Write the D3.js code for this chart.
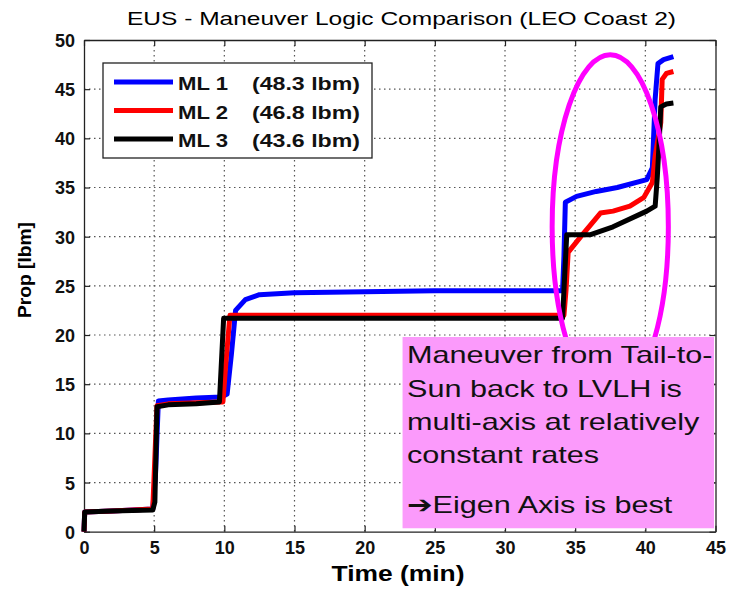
<!DOCTYPE html>
<html>
<head>
<meta charset="utf-8">
<script src="https://cdn.jsdelivr.net/npm/d3@7"></script>
<style>
  html, body { margin: 0; padding: 0; background: #fff; }
  svg { display: block; }
  text { font-family: "Liberation Sans", Arial, Helvetica, sans-serif; }
</style>
</head>
<body>
<svg id="chart" width="738" height="591"></svg>
<script>
// Propellant usage (lbm) vs time (min) for three maneuver logics
const seriesNames = ["ML 1", "ML 2", "ML 3"];
const seriesTotals = ["(48.3 lbm)", "(46.8 lbm)", "(43.6 lbm)"];
const seriesColors = ["#0000ff", "#ff0000", "#000000"];

const ml1Time = [0, 0.05, 2, 4.9, 5.1, 5.3, 6, 8, 9.8, 10.2, 10.5, 10.8, 11.5, 12.5, 15, 20, 25, 30, 34.1, 34.2, 34.3, 35.1, 36.5, 38, 40.1, 40.5, 40.7, 40.9, 41.3, 42];
const ml1Prop = [0, 2.0, 2.1, 2.3, 6, 13.3, 13.4, 13.6, 13.7, 14, 18, 22.5, 23.6, 24.1, 24.3, 24.4, 24.5, 24.5, 24.5, 28, 33.5, 34.1, 34.6, 35.0, 35.8, 37, 44, 47.6, 48.0, 48.3];

const ml2Time = [0, 0.05, 2, 4.9, 5.2, 6, 9.7, 9.9, 10.1, 10.4, 15, 20, 30, 34.2, 34.35, 34.5, 35.4, 36.8, 37.7, 38.9, 39.9, 40.5, 40.7, 41.1, 41.2, 41.5, 42];
const ml2Prop = [0, 2.0, 2.1, 2.3, 12.8, 13.0, 13.2, 13.2, 17, 22.0, 22.0, 22.0, 22.0, 22.0, 24.6, 28.4, 30.0, 32.4, 32.6, 33.1, 34.0, 35.5, 38.2, 41.6, 46.0, 46.6, 46.8];

const ml3Time = [0, 0.05, 2, 4.9, 5.05, 5.2, 6, 8, 9.65, 9.95, 15, 25, 34.1, 34.25, 34.4, 36.1, 37.7, 40.1, 40.7, 40.85, 41.0, 41.1, 41.5, 42];
const ml3Prop = [0, 2.0, 2.1, 2.2, 3, 12.7, 12.9, 13.0, 13.2, 21.7, 21.7, 21.7, 21.7, 26, 30.2, 30.2, 31.0, 32.6, 33.1, 36, 40, 43.2, 43.5, 43.6];

const xTicks = [0, 5, 10, 15, 20, 25, 30, 35, 40, 45];
const yTicks = [0, 5, 10, 15, 20, 25, 30, 35, 40, 45, 50];

const noteLines = ["Maneuver from Tail-to-", "Sun back to LVLH is", "multi-axis at relatively", "constant rates", "\u2794Eigen Axis is best"];

const svg = d3.select("#chart");
const W = 738, H = 591;
const plotL = 84, plotR = 715.5, plotT = 40, plotB = 531.7;

const x = d3.scaleLinear().domain([0, 45]).range([plotL, plotR]);
const y = d3.scaleLinear().domain([0, 50]).range([plotB, plotT]);

svg.append("rect").attr("width", W).attr("height", H).attr("fill", "#fff");

// Title
svg.append("text")
  .attr("x", 127).attr("y", 25)
  .attr("font-size", 18.5)
  .attr("textLength", 549).attr("lengthAdjust", "spacingAndGlyphs")
  .text("EUS - Maneuver Logic Comparison (LEO Coast 2)");

// Plot background
svg.append("rect")
  .attr("x", plotL).attr("y", plotT)
  .attr("width", plotR - plotL).attr("height", plotB - plotT)
  .attr("fill", "#fff");

// Dotted grid
const grid = svg.append("g").attr("stroke", "#555").attr("stroke-width", 1.2).attr("stroke-dasharray", "1.5,3.5");
grid.selectAll(".gx").data(xTicks.slice(1, -1)).join("line")
  .attr("x1", d => x(d)).attr("x2", d => x(d))
  .attr("y1", plotT).attr("y2", plotB);
grid.selectAll(".gy").data(yTicks.slice(1, -1)).join("line")
  .attr("x1", plotL).attr("x2", plotR)
  .attr("y1", d => y(d)).attr("y2", d => y(d));

// Axes with inward ticks on all four sides
const tickLen = 6;
const axB = svg.append("g").attr("transform", `translate(0,${plotB})`)
  .call(d3.axisBottom(x).tickValues(xTicks).tickSizeInner(-tickLen).tickSizeOuter(0).tickPadding(10));
const axT = svg.append("g").attr("transform", `translate(0,${plotT})`)
  .call(d3.axisTop(x).tickValues(xTicks).tickSizeInner(-tickLen).tickSizeOuter(0).tickFormat(""));
const axL = svg.append("g").attr("transform", `translate(${plotL},0)`)
  .call(d3.axisLeft(y).tickValues(yTicks).tickSizeInner(-tickLen).tickSizeOuter(0).tickPadding(9));
const axR = svg.append("g").attr("transform", `translate(${plotR},0)`)
  .call(d3.axisRight(y).tickValues(yTicks).tickSizeInner(-tickLen).tickSizeOuter(0).tickFormat(""));

[axB, axT, axL, axR].forEach(a => {
  a.select(".domain").attr("stroke", "#222").attr("stroke-width", 1.3);
  a.selectAll(".tick line").attr("stroke", "#222").attr("stroke-width", 1.2);
});
[axB, axL].forEach(a => {
  a.selectAll(".tick text")
    .attr("font-family", "Liberation Sans, Arial, sans-serif")
    .attr("font-size", 18).attr("font-weight", "bold").attr("fill", "#111");
});
axB.selectAll(".tick text").attr("dy", "0.71em");
axL.selectAll(".tick text").attr("dy", "0.36em");

// Axis titles
svg.append("text")
  .attr("x", 398).attr("y", 581)
  .attr("text-anchor", "middle")
  .attr("font-size", 22).attr("font-weight", "bold")
  .attr("textLength", 133).attr("lengthAdjust", "spacingAndGlyphs")
  .text("Time (min)");
svg.append("text")
  .attr("transform", "translate(31,270) rotate(-90)")
  .attr("text-anchor", "middle")
  .attr("font-size", 19).attr("font-weight", "bold")
  .attr("textLength", 96).attr("lengthAdjust", "spacingAndGlyphs")
  .text("Prop [lbm]");

// Series lines
const series = [
  { t: ml1Time, p: ml1Prop, color: seriesColors[0] },
  { t: ml2Time, p: ml2Prop, color: seriesColors[1] },
  { t: ml3Time, p: ml3Prop, color: seriesColors[2] }
];
const line = d3.line().x(d => x(d[0])).y(d => y(d[1]));
const plot = svg.append("g");
series.forEach(s => {
  plot.append("path")
    .datum(d3.zip(s.t, s.p))
    .attr("d", line)
    .attr("fill", "none")
    .attr("stroke", s.color)
    .attr("stroke-width", 5)
    .attr("stroke-linejoin", "round")
    .attr("stroke-linecap", "butt");
});

// Highlight ellipse around the final maneuver
const ellCx = 37.5, ellCy = 31.0, ellRx = 4.14, ellRy = 17.5;
svg.append("ellipse")
  .attr("cx", x(ellCx)).attr("cy", y(ellCy))
  .attr("rx", x(ellRx) - x(0)).attr("ry", y(0) - y(ellRy))
  .attr("fill", "none")
  .attr("stroke", "#ff00ff")
  .attr("stroke-width", 5);

// Annotation box
const boxX0 = 22.7, boxY0 = 19.8, boxY1 = 0.35;
svg.append("rect")
  .attr("x", x(boxX0)).attr("y", y(boxY0))
  .attr("width", x(45) - x(boxX0) - 1.5).attr("height", y(boxY1) - y(boxY0))
  .attr("fill", "#fb9afb");

// Note text: slightly widened glyphs; the first line is justified to the box width
const noteBaselines = [363, 397, 430, 463, 513];
const firstLineWidth = 301, refLineWidth = 275;
const note = svg.append("g").attr("fill", "#111");
const noteTexts = noteLines.map((t, i) =>
  note.append("text").attr("x", 0).attr("y", noteBaselines[i]).attr("font-size", 24).text(t));
const stretch = refLineWidth / noteTexts[1].node().getComputedTextLength();
note.attr("transform", `translate(407,0) scale(${stretch},1)`);
const natural0 = noteTexts[0].node().getComputedTextLength();
const gaps0 = noteLines[0].split(" ").length - 1;
noteTexts[0].attr("word-spacing", Math.max(0, (firstLineWidth / stretch - natural0) / gaps0));

// Legend
const lg = svg.append("g");
lg.append("rect")
  .attr("x", 103).attr("y", 63).attr("width", 269).attr("height", 95)
  .attr("fill", "#fff").attr("stroke", "#222").attr("stroke-width", 1.3);
const legY = [82, 110.5, 139];
seriesNames.forEach((n, i) => {
  lg.append("line")
    .attr("x1", 114).attr("x2", 173)
    .attr("y1", legY[i]).attr("y2", legY[i])
    .attr("stroke", seriesColors[i]).attr("stroke-width", 5);
  lg.append("text")
    .attr("x", 178).attr("y", legY[i] + 8)
    .attr("font-size", 19).attr("font-weight", "bold").attr("fill", "#111")
    .attr("textLength", 50).attr("lengthAdjust", "spacingAndGlyphs")
    .text(n);
  lg.append("text")
    .attr("x", 252).attr("y", legY[i] + 8)
    .attr("font-size", 19).attr("font-weight", "bold").attr("fill", "#111")
    .attr("textLength", 108).attr("lengthAdjust", "spacingAndGlyphs")
    .text(seriesTotals[i]);
});
</script>
</body>
</html>
